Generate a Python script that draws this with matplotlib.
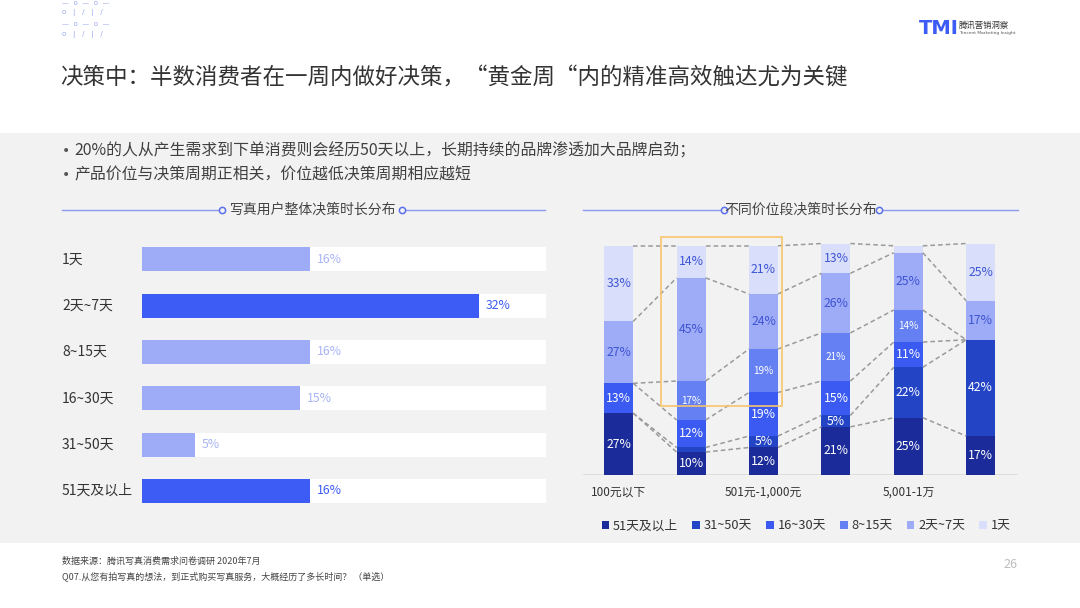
import matplotlib
matplotlib.use("Agg")
import matplotlib.pyplot as plt
import numpy as np
from matplotlib.patches import Rectangle, Patch
from matplotlib.transforms import blended_transform_factory

plt.rcParams['font.family'] = ['Noto Sans CJK SC', 'DejaVu Sans']

# ---- data ----
days = ['1天', '2天~7天', '8~15天', '16~30天', '31~50天', '51天及以上']
overall = [16, 32, 16, 15, 5, 16]
highlight = [False, True, False, False, False, True]

seg_names = ['51天及以上', '31~50天', '16~30天', '8~15天', '2天~7天', '1天']
price_labels = ['100元以下', '', '501元-1,000元', '', '5,001-1万', '']
d51 = [27, 10, 12, 21, 25, 17]
d31 = [0, 2, 5, 5, 22, 42]
d16 = [13, 12, 19, 15, 11, 0]
d8 = [0, 17, 19, 21, 14, 0]
d2 = [27, 45, 24, 26, 25, 17]
d1 = [33, 14, 21, 13, 3, 25]

seg_colors = ['#1b2c9a', '#2444c6', '#3a5af2', '#6480f2', '#9eabf6', '#d9dffb']
txt_colors = ['white', 'white', 'white', 'white', '#3d54d4', '#3d54d4']
txt_sizes = [8.8, 8.8, 8.8, 7.2, 8.8, 8.8]

W, H = 1080, 608
fig = plt.figure(figsize=(W / 100, H / 100), dpi=100)
fig.patch.set_facecolor('white')

def fx(px):
    return px / W

def fy(py):
    return 1 - py / H

# gray panel
fig.patches.append(Rectangle((0, fy(543)), 1, fy(133) - fy(543), transform=fig.transFigure,
                             facecolor='#f2f2f2', edgecolor='none', zorder=-5))

# header decoration
deco_c = '#9aa7ef'
for py, s in [(3, '—  o  —  o  —'), (13, 'o   |   /   |   /'), (24, '—  o  —  o  —'), (34, 'o   |   /   |   /')]:
    fig.text(fx(62), fy(py), s, fontsize=5, color=deco_c, va='center', ha='left', family='DejaVu Sans')

# logo
fig.text(fx(919), fy(28), 'TMI', fontsize=14, color='#3d5cf5', fontweight='bold', va='center', ha='left',
         family='DejaVu Sans')
fig.text(fx(959), fy(25), '腾讯营销洞察', fontsize=6, color='#333333', va='center', ha='left')
fig.text(fx(959), fy(33), 'Tencent Marketing Insight', fontsize=3.2, color='#555555', va='center', ha='left',
         family='DejaVu Sans')

# title
fig.text(fx(60), fy(78), '决策中：半数消费者在一周内做好决策，“黄金周“内的精准高效触达尤为关键',
         fontsize=16.2, color='#333333', va='center', ha='left')

# bullets
for py, s in [(151, '20%的人从产生需求到下单消费则会经历50天以上，长期持续的品牌渗透加大品牌启劲；'),
              (175, '产品价位与决策周期正相关，价位越低决策周期相应越短')]:
    fig.text(fx(62), fy(py), '•', fontsize=10, color='#555555', va='center', ha='left', family='DejaVu Sans')
    fig.text(fx(74), fy(py), s, fontsize=11.4, color='#404040', va='center', ha='left')

# section headers
line_c = '#8c9bf0'
def section(x0, x1, c0, c1, text, tx):
    fig.add_artist(plt.Line2D([fx(x0), fx(c0 - 4)], [fy(210), fy(210)], color=line_c, lw=1,
                              transform=fig.transFigure))
    fig.add_artist(plt.Line2D([fx(c1 + 4), fx(x1)], [fy(210), fy(210)], color=line_c, lw=1,
                              transform=fig.transFigure))
    for c in (c0, c1):
        fig.add_artist(plt.Line2D([fx(c)], [fy(210)], marker='o', markersize=4.5, markerfacecolor='#f2f2f2',
                                  markeredgecolor='#5b70ea', markeredgewidth=1.1, transform=fig.transFigure))
    fig.text(fx(tx), fy(210), text, fontsize=10, color='#444444', va='center', ha='center')

section(62, 545, 222, 402, '写真用户整体决策时长分布', 313)
section(583, 1018, 724, 879, '不同价位段决策时长分布', 801)

# ---- left chart ----
ax1 = fig.add_axes([fx(142), fy(515), fx(546) - fx(142), fy(235) - fy(515)])
ax1.set_facecolor('none')
xmax = 38.4
y = np.arange(len(days))
ax1.barh(y, [xmax] * len(days), height=0.52, color='white', zorder=1)
bar_cols = ['#3d5cf5' if h else '#9eabf7' for h in highlight]
ax1.barh(y, overall, height=0.52, color=bar_cols, zorder=2)
for yi, v, h in zip(y, overall, highlight):
    ax1.text(v + 0.65, yi, f'{v}%', fontsize=8.8, color='#3d5cf5' if h else '#a9b4f6',
             va='center', ha='left', zorder=3)
trans = blended_transform_factory(fig.transFigure, ax1.transData)
for yi, lab in zip(y, days):
    ax1.text(fx(62), yi, lab, transform=trans, fontsize=10, color='#333333', va='center', ha='left')
ax1.set_xlim(0, xmax)
ax1.set_ylim(5.52, -0.525)
ax1.axis('off')

# ---- right chart ----
ax2 = fig.add_axes([fx(583), fy(475), fx(1018) - fx(583), fy(230) - fy(475)])
ax2.set_facecolor('none')
segs = np.array([d51, d31, d16, d8, d2, d1], dtype=float)
xs = np.arange(segs.shape[1])
bw = 0.40
bottom = np.zeros(segs.shape[1])
for k in range(segs.shape[0]):
    ax2.bar(xs, segs[k], bw, bottom=bottom, color=seg_colors[k], zorder=2, linewidth=0)
    for xi, v, b in zip(xs, segs[k], bottom):
        if v >= 5:
            ax2.text(xi, b + v / 2, f'{int(v)}%', fontsize=txt_sizes[k], color=txt_colors[k],
                     ha='center', va='center', zorder=4)
    bottom = bottom + segs[k]

cum = np.cumsum(segs, axis=0)
for i in range(len(xs) - 1):
    for k in range(cum.shape[0]):
        ax2.plot([xs[i] + bw / 2, xs[i + 1] - bw / 2], [cum[k, i], cum[k, i + 1]],
                 color='#9a9a9a', lw=1.1, ls=(0, (3, 2)), zorder=3)

ax2.axhline(0, color='#dcdcdc', lw=2, zorder=1)
ax2.add_patch(Rectangle((xs[1] - 0.415, 29.9), 1.67, 73.9, fill=False, edgecolor='#f7c46c', lw=1.2, zorder=5))
for xi, lab in zip(xs, price_labels):
    if lab:
        ax2.text(xi, -7.5, lab, fontsize=8.5, color='#333333', ha='center', va='center', clip_on=False)
ax2.set_xlim(-0.493, 5.515)
ax2.set_ylim(0, 106.9)
ax2.axis('off')

# legend
handles = [Patch(facecolor=c, edgecolor='none') for c in seg_colors]
fig.legend(handles, seg_names, loc='center', bbox_to_anchor=(fx(806), fy(526)), ncol=6, frameon=False,
           fontsize=9.2, handlelength=0.6, handleheight=0.6, handletextpad=0.3, columnspacing=1.1,
           labelcolor='#333333')

# footer
fig.text(fx(62), fy(561), '数据来源：腾讯写真消费需求问卷调研 2020年7月', fontsize=6.5, color='#444444',
         va='center', ha='left')
fig.text(fx(62), fy(576), 'Q07.从您有拍写真的想法，到正式购买写真服务，大概经历了多长时间？ （单选）',
         fontsize=6.5, color='#444444', va='center', ha='left')
fig.text(fx(1010), fy(564), '26', fontsize=9, color='#bdbdbd', va='center', ha='center')

fig.savefig('out.png', dpi=100, facecolor=fig.get_facecolor())
